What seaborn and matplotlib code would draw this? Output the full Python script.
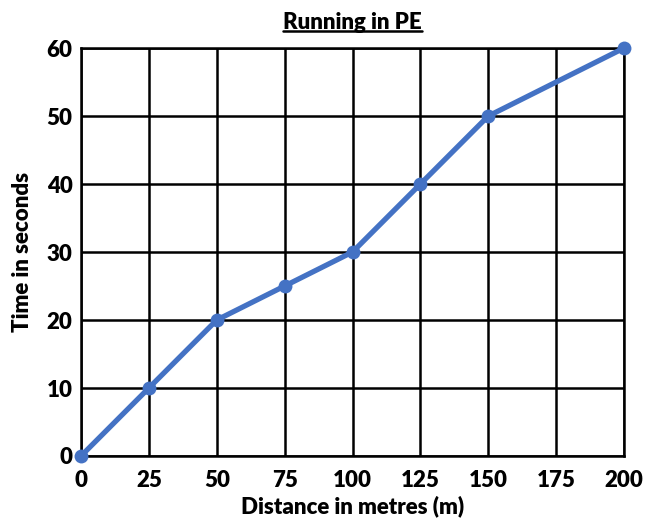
import matplotlib
matplotlib.use("Agg")
import matplotlib.pyplot as plt
import seaborn as sns
import pandas as pd
from matplotlib.lines import Line2D

tick_labels = ["0", "25", "50", "75", "100", "125", "150", "175", "200"]
distance = ["0", "25", "50", "75", "100", "125", "150", "200"]
time_s = [0, 10, 20, 25, 30, 40, 50, 60]
y_ticks = [0, 10, 20, 30, 40, 50, 60]

sns.set_theme(style="white")
plt.rcParams["font.family"] = ["Lato", "DejaVu Sans"]

FW = "heavy"
FS = 16

df = pd.DataFrame({"pos": [tick_labels.index(d) for d in distance], "time": time_s})

fig = plt.figure(figsize=(6.48, 5.19), dpi=100)
ax = fig.add_axes([0.125, 0.1214, 0.838, 0.786])

sns.lineplot(data=df, x="pos", y="time", ax=ax, color="#4472C4", linewidth=3.8,
             marker="o", markersize=10, markeredgewidth=0, zorder=5, clip_on=False)

ax.set_xlim(0, len(tick_labels) - 1)
ax.set_ylim(0, 60)
ax.set_xticks(range(len(tick_labels)))
ax.set_xticklabels(tick_labels)
ax.set_yticks(y_ticks)
ax.grid(True, color="black", linewidth=1.8)
ax.set_axisbelow(True)
for s in ax.spines.values():
    s.set_color("black")
    s.set_linewidth(1.8)
ax.tick_params(axis="x", length=0, labelsize=FS, pad=10, colors="black")
ax.tick_params(axis="y", length=0, labelsize=FS, pad=6, colors="black")
for lab in ax.get_xticklabels() + ax.get_yticklabels():
    lab.set_fontweight(FW)

ax.set_xlabel("Distance in metres (m)", fontsize=FS, fontweight=FW, color="black", labelpad=3)
ax.set_ylabel("Time in seconds", fontsize=FS, fontweight=FW, color="black", labelpad=10)
title = ax.set_title("Running in PE", fontsize=FS, fontweight=FW, color="black", pad=14)

fig.canvas.draw()
bb = title.get_window_extent()
W, H = fig.bbox.width, fig.bbox.height
yline = (bb.y0 + 2) / H
fig.add_artist(Line2D([bb.x0 / W, bb.x1 / W], [yline, yline], color="black", linewidth=1.8,
                      transform=fig.transFigure))

fig.savefig("out.png", dpi=100)
